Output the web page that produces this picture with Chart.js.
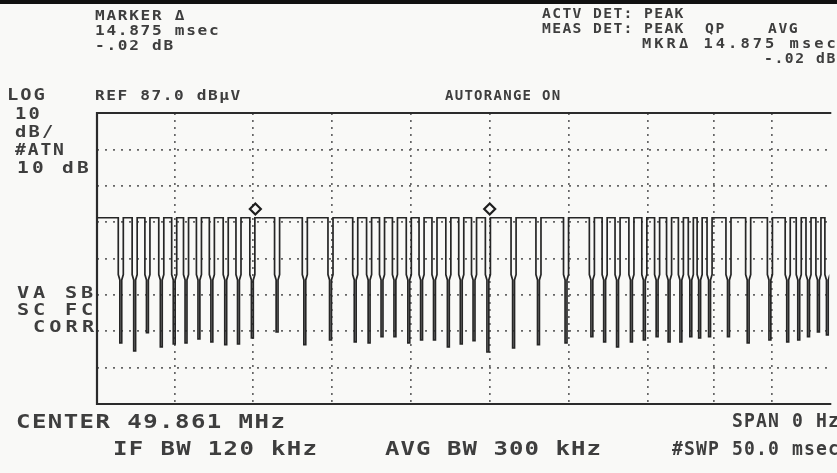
<!DOCTYPE html>
<html>
<head>
<meta charset="utf-8">
<script src="https://cdn.jsdelivr.net/npm/chart.js@4.4.1/dist/chart.umd.min.js"></script>
<style>
  html, body { margin: 0; padding: 0; background: #f9f9f7; overflow: hidden; }
  #wrap { position: relative; width: 837px; height: 473px; }
  #topbar { position: absolute; left: 0; top: 0; width: 837px; height: 4px; background: #111; }
  canvas { position: absolute; left: 0; top: 0; }
</style>
</head>
<body>
<div id="wrap">
  <canvas id="scope" width="837" height="473"></canvas>
  <div id="topbar"></div>
</div>
<script>
// time of each pulse dip (msec from start of sweep) and the level it drops to (dBuV)
var dipMs = [1.51, 2.39, 3.20, 4.08, 4.90, 5.65, 6.47, 7.29, 8.17, 8.98, 9.86,
             11.43, 13.19, 14.82,
             16.39, 17.27, 18.09, 18.91, 19.79, 20.60, 21.42, 22.30, 23.12, 23.93, 24.81,
             26.44, 28.02, 29.77,
             31.41, 32.22, 33.04, 33.92, 34.74, 35.55, 36.31, 37.06, 37.69, 38.25, 38.88,
             40.08, 41.33, 42.71, 43.84, 44.54, 45.16, 45.79, 46.36];
var dipFloor = [23.8, 21.6, 26.6, 22.7, 23.5, 23.8, 24.9, 24.1, 23.3, 23.5, 25.2,
                26.8, 23.3, 24.6,
                24.1, 23.8, 25.5, 25.5, 23.8, 24.6, 24.6, 22.7, 23.5, 24.4, 21.3,
                22.4, 23.3, 23.8,
                25.5, 24.1, 22.7, 24.1, 24.6, 25.5, 24.1, 24.1, 25.5, 25.2, 25.5,
                25.5, 23.8, 24.6, 24.1, 24.6, 25.5, 26.8, 26.0];
var highLevel = 58.2;   // carrier on
var kneeLevel = 41.1;   // where the falling edge turns into the narrow spike
var markerMs = [10.05, 24.925];
var markerLevel = [60.6, 60.6];

// graticule
var refLevel = 87.0, dbPerDiv = 10, divisions = 8;
var sweepShown = 46.48;
var gridMs = [4.96, 9.92, 14.89, 19.91, 24.94, 29.96, 34.99, 39.13, 42.84];

var trace = [{ x: 0, y: highLevel }];
for (var i = 0; i < dipMs.length; i++) {
  var t = dipMs[i];
  trace.push({ x: t - 0.16, y: highLevel });
  trace.push({ x: t - 0.16, y: kneeLevel + 1.5 });
  trace.push({ x: t - 0.06, y: kneeLevel });
  trace.push({ x: t - 0.06, y: dipFloor[i] });
  trace.push({ x: t + 0.06, y: dipFloor[i] });
  trace.push({ x: t + 0.06, y: kneeLevel });
  trace.push({ x: t + 0.16, y: kneeLevel + 1.5 });
  trace.push({ x: t + 0.16, y: highLevel });
}
trace.push({ x: sweepShown + 1, y: highLevel });

var markers = markerMs.map(function(m, k) { return { x: m, y: markerLevel[k] }; });

// annotation text printed by the analyser
var texts = [
  { s: 'MARKER \u0394', x: 95, y: 20, size: 14, pitch: 11.4, sx: 1.15 },
  { s: '14.875 msec', x: 95, y: 35, size: 14, pitch: 11.4, sx: 1.15 },
  { s: '-.02 dB', x: 95, y: 50, size: 14, pitch: 11.4, sx: 1.15 },
  { s: 'ACTV DET: PEAK', x: 542, y: 18, size: 14, pitch: 10.2, sx: 1.05 },
  { s: 'MEAS DET: PEAK', x: 542, y: 33, size: 14, pitch: 10.2, sx: 1.05 },
  { s: 'QP', x: 705, y: 33, size: 14, pitch: 10.4, sx: 1.05 },
  { s: 'AVG', x: 768, y: 33, size: 14, pitch: 10.4, sx: 1.05 },
  { s: 'MKR\u0394 14.875 msec', x: 642, y: 48, size: 14, pitch: 12.3, sx: 1.1 },
  { s: '-.02 dB', x: 764, y: 63, size: 14, pitch: 10.4, sx: 1.05 },
  { s: 'LOG', x: 7, y: 100, size: 15, pitch: 13.3, sx: 1.25 },
  { s: 'REF 87.0 dB\u00b5V', x: 95, y: 100, size: 14, pitch: 11.3, sx: 1.15 },
  { s: 'AUTORANGE ON', x: 445, y: 100, size: 14, pitch: 9.7, sx: 1.0 },
  { s: '10', x: 15, y: 119, size: 15, pitch: 13.5, sx: 1.25 },
  { s: 'dB/', x: 15, y: 137, size: 15, pitch: 13.5, sx: 1.25 },
  { s: '#ATN', x: 15, y: 155, size: 15, pitch: 12.7, sx: 1.2 },
  { s: '10 dB', x: 17, y: 173, size: 15, pitch: 15, sx: 1.3 },
  { s: 'VA SB', x: 17, y: 298, size: 15, pitch: 16, sx: 1.35 },
  { s: 'SC FC', x: 17, y: 315, size: 15, pitch: 16, sx: 1.35 },
  { s: 'CORR', x: 33, y: 332, size: 15, pitch: 16.3, sx: 1.35 },
  { s: 'CENTER 49.861 MHz', x: 16, y: 428, size: 20, pitch: 15.9, sx: 1.2 },
  { s: 'IF BW 120 kHz', x: 113, y: 455, size: 20, pitch: 15.8, sx: 1.2 },
  { s: 'AVG BW 300 kHz', x: 385, y: 455, size: 20, pitch: 15.5, sx: 1.2 },
  { s: 'SPAN 0 Hz', x: 732, y: 427, size: 19, pitch: 12, sx: 0.95 },
  { s: '#SWP 50.0 msec', x: 672, y: 455, size: 19, pitch: 12, sx: 0.95 }
];

var printout = {
  id: 'printout',
  beforeDatasetsDraw: function(chart) {
    var a = chart.chartArea, c = chart.ctx;
    c.save();
    c.strokeStyle = '#2b2b2b';
    c.lineWidth = 2.2;
    c.beginPath();
    c.moveTo(a.right + 2, a.top);
    c.lineTo(a.left, a.top);
    c.lineTo(a.left, a.bottom);
    c.lineTo(a.right + 2, a.bottom);
    c.stroke();
    c.restore();
  },
  afterDraw: function(chart) {
    var c = chart.ctx;
    c.save();
    c.fillStyle = '#3e3e3e';
    c.textBaseline = 'alphabetic';
    texts.forEach(function(tx) {
      c.font = 'bold ' + tx.size + 'px "DejaVu Sans Mono", monospace';
      for (var j = 0; j < tx.s.length; j++) {
        var ch = tx.s[j];
        if (ch === ' ') continue;
        c.save();
        c.translate(tx.x + j * tx.pitch, tx.y);
        c.scale(tx.sx, 1);
        c.fillText(ch, 0, 0);
        c.restore();
      }
    });
    c.restore();
  }
};

var ctx = document.getElementById('scope').getContext('2d');

var scope = new Chart(ctx, {
  type: 'line',
  data: {
    datasets: [
      {
        label: 'trace',
        data: trace,
        borderColor: '#262626',
        borderWidth: 1.7,
        pointRadius: 0,
        tension: 0,
        fill: false
      },
      {
        label: 'markers',
        data: markers,
        showLine: false,
        pointStyle: 'rectRot',
        pointRadius: 5.5,
        pointBackgroundColor: '#f9f9f7',
        pointBorderColor: '#1e1e1e',
        pointBorderWidth: 2.2,
        clip: false
      }
    ]
  },
  options: {
    responsive: false,
    animation: false,
    events: [],
    layout: { padding: { left: 97, top: 113, right: 0, bottom: 69 } },
    plugins: { legend: { display: false }, tooltip: { enabled: false } },
    scales: {
      x: {
        type: 'linear',
        min: 0,
        max: sweepShown,
        afterBuildTicks: function(scale) {
          scale.ticks = gridMs.map(function(v) { return { value: v }; });
        },
        afterFit: function(scale) { scale.height = 0; },
        ticks: { display: false },
        grid: { color: '#666', lineWidth: 1.7, drawTicks: false },
        border: { display: false, dash: [2, 5] }
      },
      y: {
        min: refLevel - dbPerDiv * divisions,
        max: refLevel,
        ticks: { display: false, stepSize: dbPerDiv },
        afterFit: function(scale) { scale.width = 0; },
        grid: { color: '#666', lineWidth: 1.7, drawTicks: false },
        border: { display: false, dash: [2, 6] }
      }
    }
  },
  plugins: [printout]
});
</script>
</body>
</html>
